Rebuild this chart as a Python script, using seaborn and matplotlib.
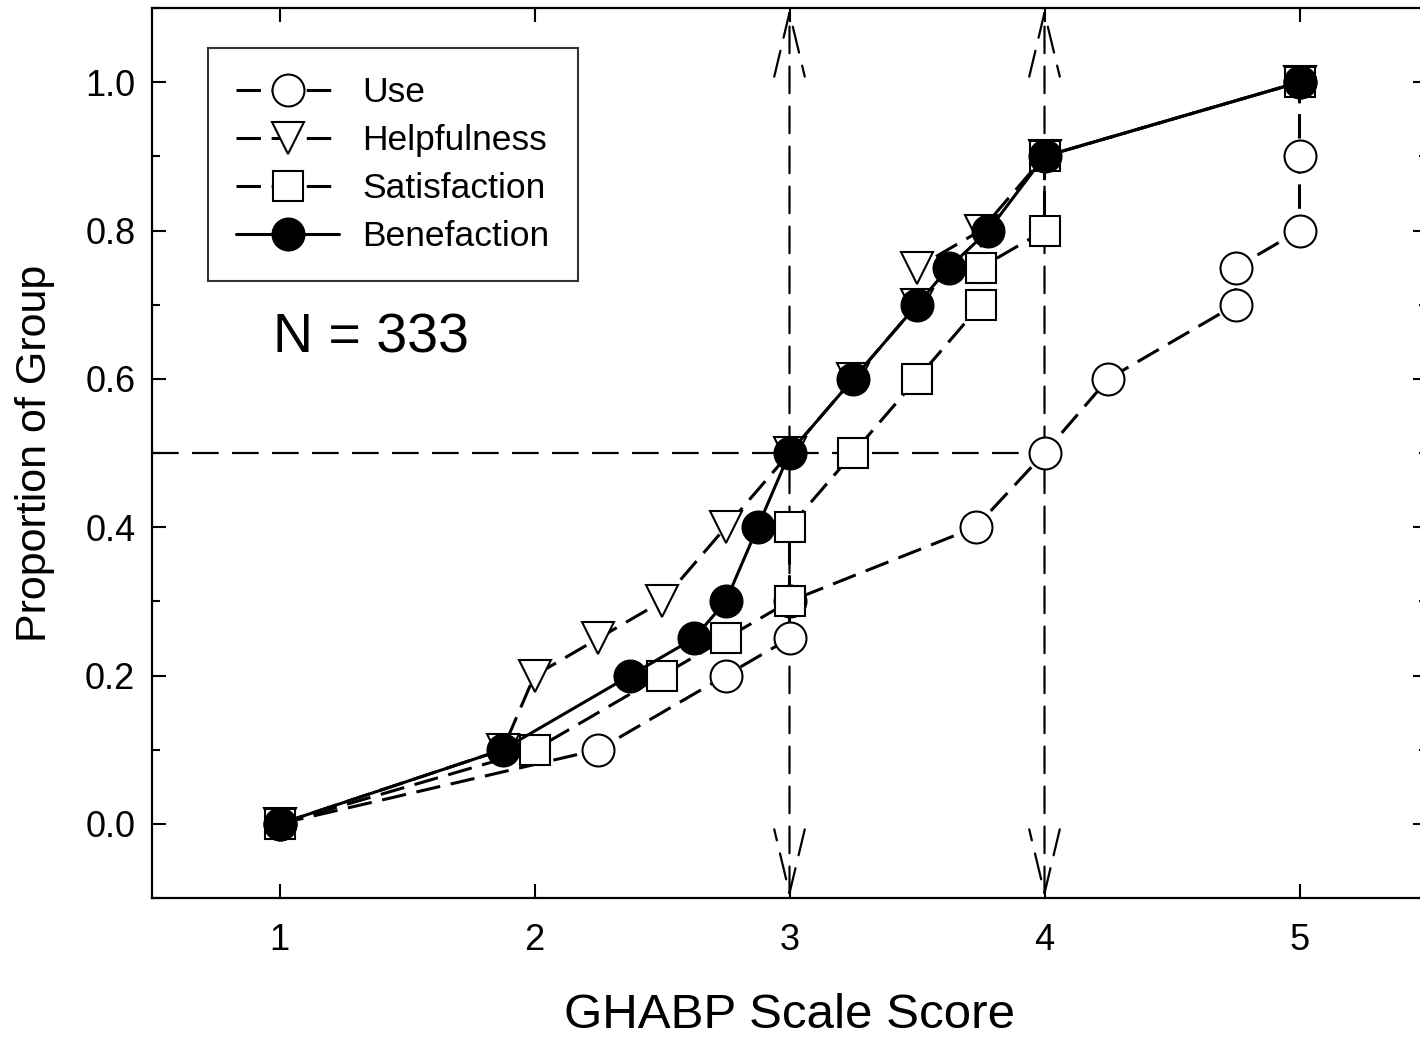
import matplotlib
matplotlib.use("Agg")
import matplotlib.pyplot as plt
from matplotlib.ticker import MultipleLocator
import seaborn as sns
import pandas as pd

# data (cumulative proportion vs GHABP score)
use_x = [1, 2.25, 2.75, 3, 3, 3.73, 4, 4.25, 4.75, 4.75, 5, 5, 5]
use_y = [0, 0.1, 0.2, 0.25, 0.3, 0.4, 0.5, 0.6, 0.7, 0.75, 0.8, 0.9, 1.0]

help_x = [1, 1.875, 2, 2.25, 2.5, 2.75, 3, 3.25, 3.5, 3.5, 3.75, 4, 5]
help_y = [0, 0.1, 0.2, 0.25, 0.3, 0.4, 0.5, 0.6, 0.7, 0.75, 0.8, 0.9, 1.0]

sat_x = [1, 2, 2.5, 2.75, 3, 3, 3.25, 3.5, 3.75, 3.75, 4, 4, 5]
sat_y = [0, 0.1, 0.2, 0.25, 0.3, 0.4, 0.5, 0.6, 0.7, 0.75, 0.8, 0.9, 1.0]

ben_x = [1, 1.875, 2.375, 2.625, 2.75, 2.875, 3, 3.25, 3.5, 3.625, 3.78, 4, 5]
ben_y = [0, 0.1, 0.2, 0.25, 0.3, 0.4, 0.5, 0.6, 0.7, 0.75, 0.8, 0.9, 1.0]

median_level = 0.5
median_scores = [3, 4]
n_label = "N = 333"

sns.set_style("ticks")
plt.rcParams["font.family"] = ["Liberation Sans", "DejaVu Sans"]
plt.rcParams["text.color"] = "black"
plt.rcParams["axes.labelcolor"] = "black"
plt.rcParams["xtick.color"] = "black"
plt.rcParams["ytick.color"] = "black"
plt.rcParams["axes.edgecolor"] = "black"

fig = plt.figure(figsize=(14.2, 10.38), dpi=100)
ax = fig.add_axes([152 / 1420, 1 - 898 / 1038, 1275 / 1420, 890 / 1038])

dash = (0, (8, 3.5))
series = [
    ("Use", use_x, use_y, "o", "white", dash, 23),
    ("Helpfulness", help_x, help_y, "v", "white", dash, 23),
    ("Satisfaction", sat_x, sat_y, "s", "white", dash, 21),
    ("Benefaction", ben_x, ben_y, "o", "black", "-", 23),
]

for name, xs, ys, mk, fc, ls, ms in series:
    df = pd.DataFrame({"score": xs, "prop": ys})
    sns.lineplot(data=df, x="score", y="prop", ax=ax, estimator=None, sort=False,
                 color="black", lw=2.2, linestyle=ls, marker=mk, markersize=ms,
                 markerfacecolor=fc, markeredgecolor="black", markeredgewidth=1.5,
                 label=name)

# reference lines: median level and arrows at scores 3 and 4
ax.plot([0.5, max(median_scores)], [median_level, median_level], color="black",
        lw=1.6, linestyle=(0, (12, 6)), zorder=1)
for s in median_scores:
    ax.annotate("", xy=(s, 1.1), xytext=(s, -0.1),
                arrowprops=dict(arrowstyle="<->,head_length=2.3,head_width=0.55",
                                mutation_scale=20, color="black", lw=1.6,
                                linestyle=(0, (12, 6)), shrinkA=0, shrinkB=0),
                zorder=1)

ax.set_xlim(0.5, 5.5)
ax.set_ylim(-0.1, 1.1)
ax.set_xticks([1, 2, 3, 4, 5])
ax.set_yticks([0.0, 0.2, 0.4, 0.6, 0.8, 1.0])
ax.set_yticklabels(["0.0", "0.2", "0.4", "0.6", "0.8", "1.0"])
ax.yaxis.set_minor_locator(MultipleLocator(0.1))
ax.tick_params(axis="both", which="both", direction="in", top=True, right=True,
               labelsize=26, width=1.5)
ax.tick_params(axis="both", which="major", length=10)
ax.tick_params(axis="y", which="minor", length=6)
ax.tick_params(axis="x", which="major", pad=18)
ax.tick_params(axis="y", which="major", pad=12)
for sp in ax.spines.values():
    sp.set_linewidth(1.6)

ax.set_xlabel("GHABP Scale Score", fontsize=35.5, labelpad=25)
ax.set_ylabel("Proportion of Group", fontsize=31, labelpad=22)

ax.text(1.36, 0.655, n_label, fontsize=40, ha="center", va="center")

handles, labels = ax.get_legend_handles_labels()
leg = ax.legend(handles, labels, loc="upper left", bbox_to_anchor=(0.044, 0.955),
                fontsize=25.5, frameon=True, fancybox=False, edgecolor="black",
                handlelength=2.9, handletextpad=0.65, labelspacing=0.42,
                borderpad=0.8, borderaxespad=0)
leg.get_frame().set_linewidth(1.5)

fig.savefig("out.png", dpi=100)
